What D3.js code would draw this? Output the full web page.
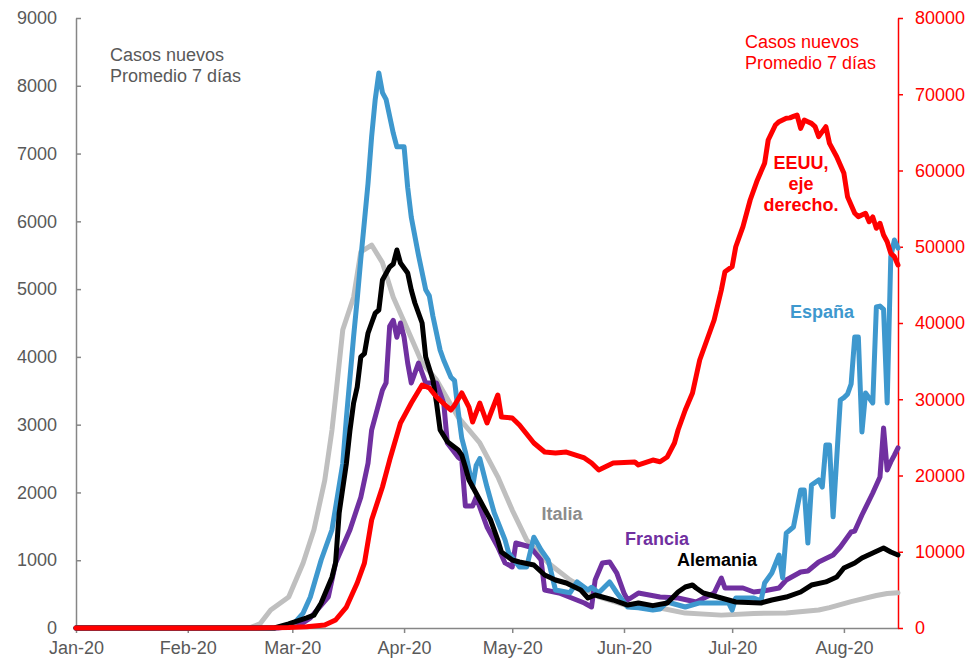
<!DOCTYPE html>
<html>
<head>
<meta charset="utf-8">
<script src="https://cdn.jsdelivr.net/npm/d3@7"></script>
<style>
  body { margin: 0; background: #fff; }
  svg text { font-family: Arial, "Liberation Sans", sans-serif; }
</style>
</head>
<body>
<svg id="chart" width="969" height="659"></svg>
<script>
// Casos nuevos, promedio 7 días (lectura aproximada del gráfico)
var italia = [
  ["2020-01-01",0],["2020-02-18",0],["2020-02-21",60],["2020-02-24",265],["2020-02-29",457],
  ["2020-03-04",959],["2020-03-07",1450],["2020-03-10",2180],["2020-03-12",2920],["2020-03-13",3400],
  ["2020-03-15",4400],["2020-03-18",4880],["2020-03-20",5550],["2020-03-23",5650],["2020-03-26",5390],
  ["2020-03-29",4880],["2020-04-02",4400],["2020-04-06",3910],["2020-04-10",3660],["2020-04-16",3110],
  ["2020-04-22",2730],["2020-04-27",2230],["2020-05-01",1740],["2020-05-05",1300],["2020-05-11",960],
  ["2020-05-17",710],["2020-05-25",460],["2020-06-03",310],["2020-06-11",295],["2020-06-18",220],
  ["2020-06-28",190],["2020-07-07",215],["2020-07-16",220],["2020-07-25",265],["2020-07-28",300],
  ["2020-08-03",390],["2020-08-10",480],["2020-08-13",510],["2020-08-16",520]
];

var espana = [
  ["2020-01-01",0],["2020-02-25",0],["2020-03-01",40],["2020-03-04",220],["2020-03-06",457],
  ["2020-03-09",1003],["2020-03-12",1450],["2020-03-15",2430],["2020-03-16",3100],["2020-03-17",3700],
  ["2020-03-18",4300],["2020-03-19",4850],["2020-03-20",5450],["2020-03-21",6000],["2020-03-22",6560],
  ["2020-03-23",7250],["2020-03-24",7800],["2020-03-25",8190],["2020-03-26",7900],["2020-03-27",7800],
  ["2020-03-29",7300],["2020-03-30",7100],["2020-04-01",7100],["2020-04-02",6500],["2020-04-03",6060],
  ["2020-04-05",5500],["2020-04-07",4990],["2020-04-08",4900],["2020-04-09",4600],["2020-04-11",4100],
  ["2020-04-12",3950],["2020-04-14",3700],["2020-04-15",3650],["2020-04-16",3200],["2020-04-17",2800],
  ["2020-04-18",2600],["2020-04-20",2080],["2020-04-21",2400],["2020-04-22",2500],["2020-04-24",2080],
  ["2020-04-26",1700],["2020-04-29",1300],["2020-04-30",1110],["2020-05-03",900],["2020-05-05",900],
  ["2020-05-07",1340],["2020-05-09",1150],["2020-05-11",1000],["2020-05-13",560],["2020-05-17",520],
  ["2020-05-19",680],["2020-05-22",560],["2020-05-23",600],["2020-05-25",520],["2020-05-28",680],
  ["2020-05-30",520],["2020-06-02",310],["2020-06-05",300],["2020-06-09",265],["2020-06-11",280],
  ["2020-06-13",384],["2020-06-18",310],["2020-06-22",370],["2020-06-30",370],["2020-07-01",265],
  ["2020-07-02",443],["2020-07-07",443],["2020-07-09",400],["2020-07-10",664],["2020-07-12",811],
  ["2020-07-14",1077],["2020-07-15",738],["2020-07-16",1400],["2020-07-18",1490],["2020-07-20",2036],
  ["2020-07-21",2036],["2020-07-22",1254],["2020-07-23",2110],["2020-07-25",2184],["2020-07-26",2080],
  ["2020-07-27",2700],["2020-07-28",2700],["2020-07-29",1640],["2020-07-31",3364],["2020-08-01",3400],
  ["2020-08-02",3450],["2020-08-03",3600],["2020-08-04",4293],["2020-08-05",4293],["2020-08-06",2892],
  ["2020-08-07",3467],["2020-08-09",3320],["2020-08-10",4736],["2020-08-11",4750],["2020-08-12",4700],
  ["2020-08-13",3320],["2020-08-14",5478],["2020-08-15",5725],["2020-08-16",5606]
];

var francia = [
  ["2020-01-01",0],["2020-02-26",0],["2020-03-03",40],["2020-03-06",150],["2020-03-11",460],
  ["2020-03-13",960],["2020-03-17",1450],["2020-03-20",1930],["2020-03-22",2430],["2020-03-23",2920],
  ["2020-03-26",3510],["2020-03-27",3615],["2020-03-28",4450],["2020-03-29",4540],["2020-03-30",4290],
  ["2020-03-31",4500],["2020-04-01",4290],["2020-04-02",3910],["2020-04-03",3615],["2020-04-05",3910],
  ["2020-04-07",3615],["2020-04-10",3615],["2020-04-12",3320],["2020-04-13",2730],["2020-04-16",2520],
  ["2020-04-17",2480],["2020-04-18",1800],["2020-04-20",1800],["2020-04-21",1930],["2020-04-24",1490],
  ["2020-04-27",1195],["2020-04-29",960],["2020-05-01",900],["2020-05-02",1254],["2020-05-06",1195],
  ["2020-05-09",1003],["2020-05-10",560],["2020-05-14",516],["2020-05-21",369],["2020-05-23",310],
  ["2020-05-24",708],["2020-05-26",959],["2020-05-28",974],["2020-05-30",811],["2020-06-01",516],
  ["2020-06-02",413],["2020-06-05",516],["2020-06-11",457],["2020-06-16",443],["2020-06-21",384],
  ["2020-06-26",516],["2020-06-28",738],["2020-06-29",590],["2020-07-04",590],["2020-07-07",531],
  ["2020-07-10",550],["2020-07-14",590],["2020-07-16",708],["2020-07-20",826],["2020-07-22",841],
  ["2020-07-25",974],["2020-07-29",1077],["2020-07-31",1195],["2020-08-03",1416],["2020-08-04",1430],
  ["2020-08-06",1667],["2020-08-09",1992],["2020-08-11",2228],["2020-08-12",2951],["2020-08-13",2331],
  ["2020-08-14",2450],["2020-08-15",2550],["2020-08-16",2656]
];

var alemania = [
  ["2020-01-01",0],["2020-02-25",0],["2020-02-29",60],["2020-03-05",150],["2020-03-07",190],
  ["2020-03-09",370],["2020-03-12",750],["2020-03-13",960],["2020-03-14",1700],["2020-03-16",2430],
  ["2020-03-17",2920],["2020-03-18",3320],["2020-03-19",3556],["2020-03-20",4000],["2020-03-21",4047],
  ["2020-03-22",4352],["2020-03-23",4500],["2020-03-24",4647],["2020-03-25",4692],["2020-03-26",5134],
  ["2020-03-28",5326],["2020-03-29",5370],["2020-03-30",5577],["2020-03-31",5385],["2020-04-02",5237],
  ["2020-04-03",4987],["2020-04-04",4795],["2020-04-06",4500],["2020-04-07",3998],["2020-04-09",3659],
  ["2020-04-10",3320],["2020-04-11",2921],["2020-04-13",2750],["2020-04-16",2626],["2020-04-17",2550],
  ["2020-04-18",2375],["2020-04-19",2184],["2020-04-22",1889],["2020-04-25",1593],["2020-04-27",1298],
  ["2020-04-28",1121],["2020-05-01",1003],["2020-05-03",974],["2020-05-07",930],["2020-05-10",782],
  ["2020-05-13",708],["2020-05-16",664],["2020-05-20",560],["2020-05-22",443],["2020-05-24",487],
  ["2020-05-29",413],["2020-06-02",339],["2020-06-05",369],["2020-06-09",330],["2020-06-13",369],
  ["2020-06-16",531],["2020-06-18",605],["2020-06-20",634],["2020-06-21",590],["2020-06-23",516],
  ["2020-06-28",443],["2020-07-02",384],["2020-07-09",369],["2020-07-12",413],["2020-07-16",457],
  ["2020-07-20",531],["2020-07-23",634],["2020-07-27",680],["2020-07-30",752],["2020-08-01",885],
  ["2020-08-04",959],["2020-08-06",1033],["2020-08-09",1107],["2020-08-12",1180],["2020-08-14",1121],
  ["2020-08-16",1077]
];

// EEUU, eje derecho
var eeuu = [
  ["2020-01-01",0],["2020-02-20",10],["2020-02-29",50],["2020-03-05",150],["2020-03-10",390],
  ["2020-03-13",1050],["2020-03-16",2750],["2020-03-19",5900],["2020-03-21",8500],["2020-03-23",14160],
  ["2020-03-26",18490],["2020-03-28",22030],["2020-03-31",26890],["2020-04-03",29500],["2020-04-06",31870],
  ["2020-04-08",31480],["2020-04-10",30300],["2020-04-13",28980],["2020-04-14",28590],["2020-04-15",29200],
  ["2020-04-17",30820],["2020-04-19",28980],["2020-04-20",27017],["2020-04-22",29500],["2020-04-24",26885],
  ["2020-04-27",30560],["2020-04-28",27670],["2020-05-01",27540],["2020-05-03",26620],["2020-05-07",24260],
  ["2020-05-10",23080],["2020-05-13",22950],["2020-05-16",23080],["2020-05-21",22300],["2020-05-23",21640],
  ["2020-05-25",20720],["2020-05-29",21640],["2020-06-04",21770],["2020-06-05",21380],["2020-06-09",22030],
  ["2020-06-11",21800],["2020-06-13",22430],["2020-06-15",24260],["2020-06-16",25970],["2020-06-18",28590],
  ["2020-06-20",30820],["2020-06-22",35150],["2020-06-24",37770],["2020-06-26",40390],["2020-06-28",44330],
  ["2020-06-29",46730],["2020-07-01",47390],["2020-07-02",50000],["2020-07-04",52630],["2020-07-06",56130],
  ["2020-07-08",58760],["2020-07-10",60940],["2020-07-11",64000],["2020-07-13",65970],["2020-07-14",66400],
  ["2020-07-16",66850],["2020-07-17",66900],["2020-07-18",67100],["2020-07-19",67280],["2020-07-20",65530],
  ["2020-07-21",66620],["2020-07-22",66400],["2020-07-23",66180],["2020-07-24",65750],["2020-07-25",64440],
  ["2020-07-27",65750],["2020-07-28",63560],["2020-07-30",61810],["2020-08-01",59630],["2020-08-02",56570],
  ["2020-08-04",54390],["2020-08-05",53950],["2020-08-07",54390],["2020-08-08",53290],["2020-08-09",53900],
  ["2020-08-10",52420],["2020-08-11",53080],["2020-08-12",51540],["2020-08-13",50660],["2020-08-14",49140],
  ["2020-08-15",48700],["2020-08-16",47610]
];

var mesesTicks = ["2020-01-01","2020-02-01","2020-03-01","2020-04-01","2020-05-01","2020-06-01","2020-07-01","2020-08-01"];
var ticksIzq = [0,1000,2000,3000,4000,5000,6000,7000,8000,9000];
var ticksDer = [0,10000,20000,30000,40000,50000,60000,70000,80000];

var parse = d3.timeParse("%Y-%m-%d");
var svg = d3.select("#chart");

// bordes del área de trazado (sin usar "top", que es global del navegador)
var mIzq = 76, mDer = 898, mSup = 18, mInf = 628;

var x = d3.scaleTime()
    .domain([parse("2020-01-01"), parse("2020-08-16")])
    .range([mIzq, mDer]);
var yIzq = d3.scaleLinear().domain([0, 9000]).range([mInf, mSup]);
var yDer = d3.scaleLinear().domain([0, 80000]).range([mInf, mSup]);

var gris = "#595959";
var ejeGris = "#868686";

// eje X
var xAxis = d3.axisBottom(x)
    .tickValues(mesesTicks.map(parse))
    .tickFormat(d3.timeFormat("%b-%y"))
    .tickSize(5)
    .tickSizeOuter(0)
    .tickPadding(8);
var gx = svg.append("g").attr("transform", "translate(0," + mInf + ")").call(xAxis);
gx.selectAll("path, line").attr("stroke", ejeGris).attr("stroke-width", 1.5);
gx.selectAll("text").attr("fill", gris).style("font-size", "18px");

// eje izquierdo, marcas hacia dentro
var yAxisL = d3.axisLeft(yIzq).tickValues(ticksIzq).tickFormat(d3.format("d"))
    .tickSize(-5).tickSizeOuter(0).tickPadding(19);
var gl = svg.append("g").attr("transform", "translate(" + mIzq + ",0)").call(yAxisL);
gl.selectAll("path, line").attr("stroke", ejeGris).attr("stroke-width", 1.5);
gl.selectAll("text").attr("fill", gris).style("font-size", "18px");

// eje derecho en rojo
var yAxisR = d3.axisRight(yDer).tickValues(ticksDer).tickFormat(d3.format("d"))
    .tickSize(5).tickSizeOuter(0).tickPadding(12);
var gr = svg.append("g").attr("transform", "translate(" + mDer + ",0)").call(yAxisR);
gr.selectAll("path, line").attr("stroke", "#ff0000").attr("stroke-width", 1.5);
gr.selectAll("text").attr("fill", "#ff0000").style("font-size", "18px");

function linea(data, y, color) {
  var gen = d3.line()
    .x(function(d) { return x(parse(d[0])); })
    .y(function(d) { return y(d[1]); });
  svg.append("path")
    .datum(data)
    .attr("d", gen)
    .attr("fill", "none")
    .attr("stroke", color)
    .attr("stroke-width", 5)
    .attr("stroke-linejoin", "round")
    .attr("stroke-linecap", "round");
}

linea(italia, yIzq, "#bfbfbf");
linea(francia, yIzq, "#7030a0");
linea(espana, yIzq, "#3e98ce");
linea(alemania, yIzq, "#000000");
linea(eeuu, yDer, "#ff0000");

// textos
function texto(lineas, px, py, anchor, color, bold) {
  var t = svg.append("text")
    .attr("x", px).attr("y", py)
    .attr("text-anchor", anchor)
    .attr("fill", color)
    .style("font-size", "18px")
    .style("font-weight", bold ? "bold" : "normal");
  lineas.forEach(function(s, i) {
    t.append("tspan").attr("x", px).attr("dy", i === 0 ? 0 : 21).text(s);
  });
}

texto(["Casos nuevos", "Promedio 7 días"], 110, 61, "start", gris, false);
texto(["Casos nuevos", "Promedio 7 días"], 745, 48, "start", "#ff0000", false);
texto(["EEUU,", "eje", "derecho."], 801, 169, "middle", "#ff0000", true);
texto(["España"], 822, 318, "middle", "#3e98ce", true);
texto(["Italia"], 562, 520, "middle", "#8c8c8c", true);
texto(["Francia"], 657, 545, "middle", "#7030a0", true);
texto(["Alemania"], 717, 566, "middle", "#000000", true);
</script>
</body>
</html>
